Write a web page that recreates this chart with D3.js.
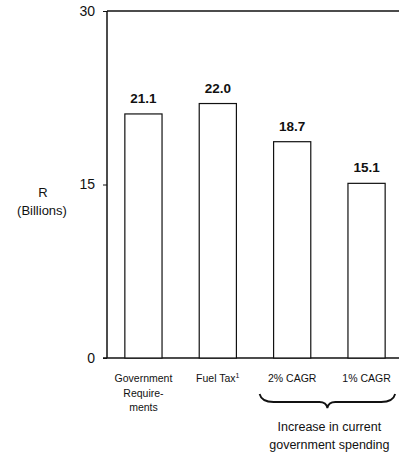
<!DOCTYPE html>
<html>
<head>
<meta charset="utf-8">
<script src="https://cdn.jsdelivr.net/npm/d3@7"></script>
<style>
  body { margin: 0; background: #fff; }
  svg { display: block; font-family: "Liberation Sans", Arial, sans-serif; }
</style>
</head>
<body>
<script>
// Chart data
const categories = ["Government Requirements", "Fuel Tax", "2% CAGR", "1% CAGR"];
const categoryLines = [["Government", "Require-", "ments"], ["Fuel Tax"], ["2% CAGR"], ["1% CAGR"]];
const values = [21.1, 22.0, 18.7, 15.1];
const yTicks = [0, 15, 30];
const valueLabels = ["21.1", "22.0", "18.7", "15.1"];

const W = 399, H = 453;
const svg = d3.select("body").append("svg").attr("width", W).attr("height", H);

const y = d3.scaleLinear().domain([0, 30]).range([358, 11]);
const x = d3.scaleBand().domain(categories).range([107, 403])
  .paddingInner(0.5).paddingOuter(0.24);

// Frame: left axis, top rule, baseline
svg.append("line").attr("x1", 107).attr("x2", 107).attr("y1", y(30)).attr("y2", y(0))
  .attr("stroke", "#111").attr("stroke-width", 1.5);
svg.append("line").attr("x1", 107).attr("x2", W).attr("y1", y(30)).attr("y2", y(30))
  .attr("stroke", "#111").attr("stroke-width", 1.5);
svg.append("line").attr("x1", 103).attr("x2", W).attr("y1", y(0)).attr("y2", y(0))
  .attr("stroke", "#111").attr("stroke-width", 1.5);

// Y axis ticks and labels
const yAxis = d3.axisLeft(y).tickValues(yTicks).tickSize(4).tickPadding(8);
const gy = svg.append("g").attr("transform", "translate(107,0)").call(yAxis);
gy.select(".domain").remove();
gy.selectAll("line").attr("stroke", "#111");
gy.selectAll("text").attr("font-size", 14).attr("fill", "#111")
  .attr("font-family", "Liberation Sans, Arial, sans-serif");

// Y axis title
svg.append("text").attr("x", 43).attr("y", 197).attr("text-anchor", "middle")
  .attr("font-size", 13).attr("fill", "#111").text("R");
svg.append("text").attr("x", 42).attr("y", 215).attr("text-anchor", "middle")
  .attr("font-size", 13).attr("fill", "#111").text("(Billions)");

// Bars
svg.selectAll("rect.bar").data(values).join("rect")
  .attr("class", "bar")
  .attr("x", (d, i) => x(categories[i]))
  .attr("width", x.bandwidth())
  .attr("y", d => y(d))
  .attr("height", d => y(0) - y(d))
  .attr("fill", "#fff").attr("stroke", "#111").attr("stroke-width", 1.2);

// Value labels
svg.selectAll("text.val").data(values).join("text")
  .attr("class", "val")
  .attr("x", (d, i) => x(categories[i]) + x.bandwidth() / 2)
  .attr("y", d => y(d) - 11)
  .attr("text-anchor", "middle").attr("font-size", 13.5).attr("font-weight", "bold")
  .attr("fill", "#111")
  .text((d, i) => valueLabels[i]);

// Category labels
categoryLines.forEach((lines, i) => {
  const cx = x(categories[i]) + x.bandwidth() / 2;
  const t = svg.append("text").attr("x", cx).attr("y", 382)
    .attr("text-anchor", "middle").attr("font-size", 10.5).attr("fill", "#111");
  lines.forEach((ln, j) => {
    t.append("tspan").attr("x", cx).attr("dy", j === 0 ? 0 : 14.5).text(ln);
    if (i === 1) t.append("tspan").attr("dy", -4).attr("font-size", 7).text("1");
  });
});

// Brace grouping the two spending scenarios
const bx0 = x(categories[2]) - 14, bx1 = x(categories[3]) + x.bandwidth() + 10;
const bm = (bx0 + bx1) / 2, bt = 394, bb = 402;
svg.append("path")
  .attr("d", `M${bx0},${bt} Q${bx0 + 2},${bb} ${bx0 + 14},${bb}
              L${bm - 8},${bb} Q${bm - 1},${bb} ${bm},${bb + 6}
              Q${bm + 1},${bb} ${bm + 8},${bb}
              L${bx1 - 14},${bb} Q${bx1 - 2},${bb} ${bx1},${bt}`)
  .attr("fill", "none").attr("stroke", "#111").attr("stroke-width", 1.8);

svg.append("text").attr("x", bm + 2).attr("y", 431).attr("text-anchor", "middle")
  .attr("font-size", 12.5).attr("fill", "#111").text("Increase in current");
svg.append("text").attr("x", bm + 2).attr("y", 449).attr("text-anchor", "middle")
  .attr("font-size", 12.5).attr("fill", "#111").text("government spending");
</script>
</body>
</html>
